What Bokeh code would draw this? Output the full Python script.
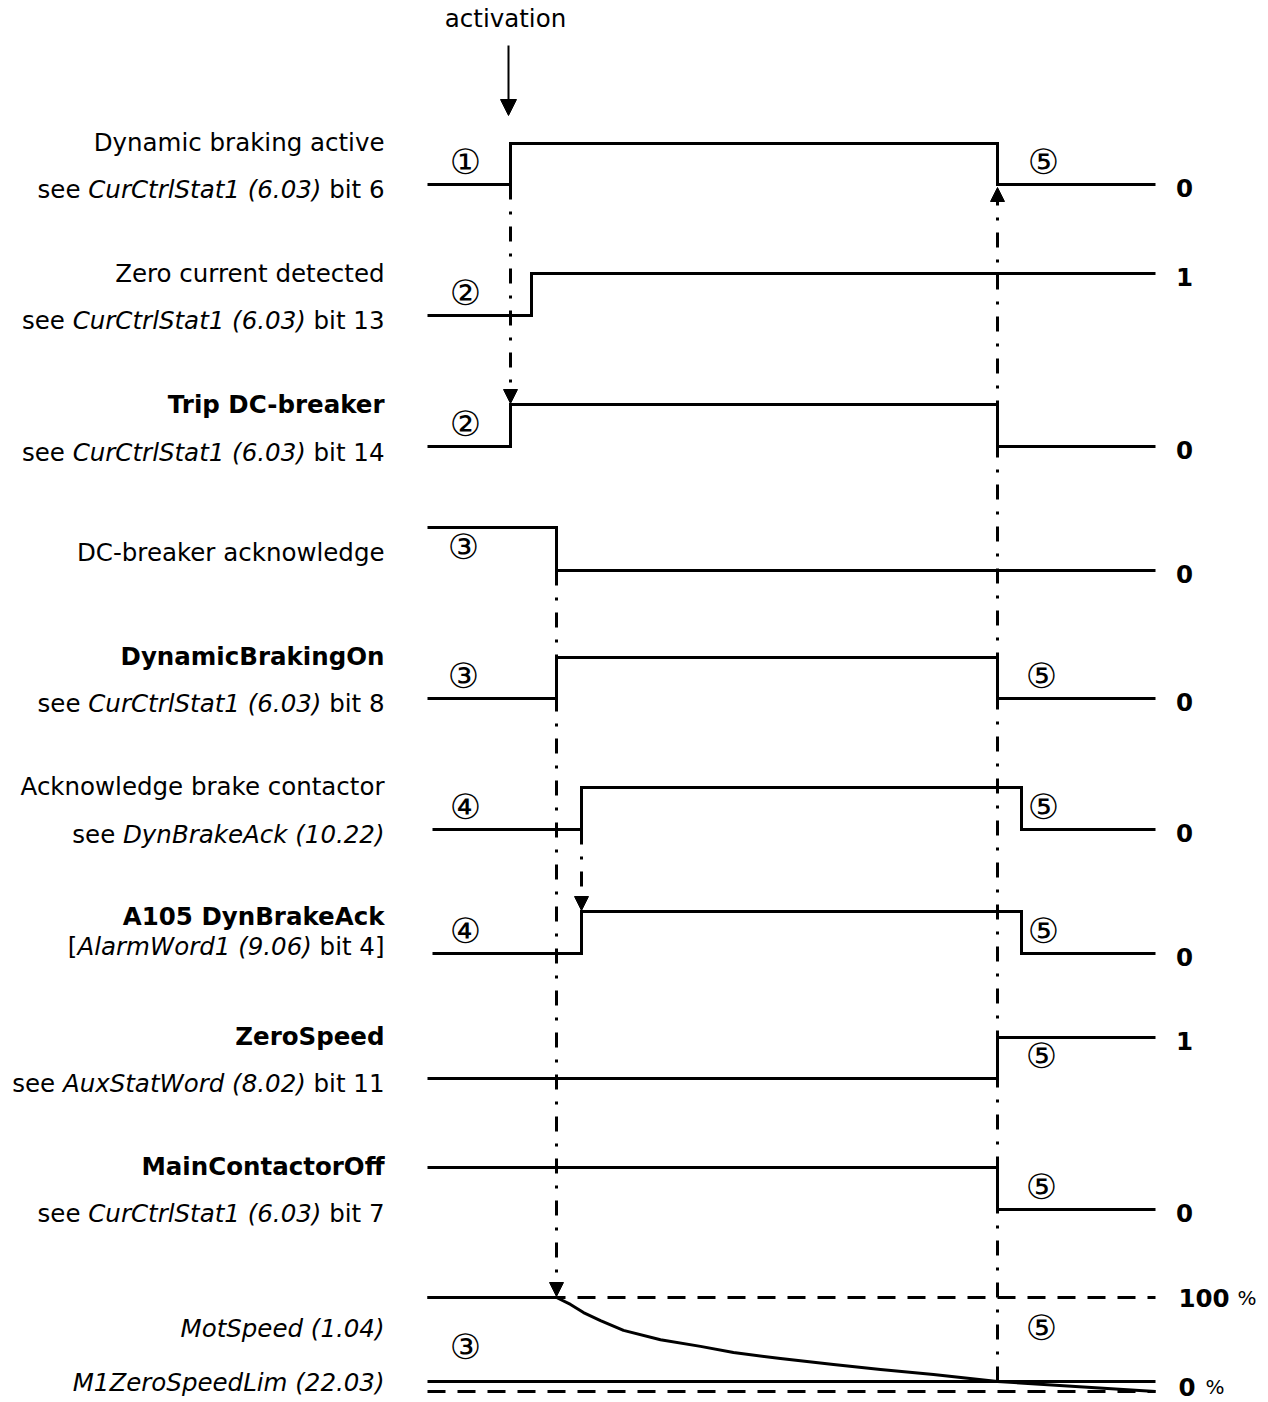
from bokeh.plotting import figure
from bokeh.models import Range1d, Arrow, NormalHead
from bokeh.embed import file_html
from bokeh.resources import INLINE
from bokeh.core.properties import value

# ---------------- data (time axis in arbitrary units, 0 = start of trace) ----------------
t_begin = 0
t_activation = 83
t_zero_current = 104
t_breaker_ack = 129
t_brake_ack = 154
t_zero_speed = 570
t_brake_release = 594
t_end = 728

signal_names = ["Dynamic braking active", "Zero current detected", "Trip DC-breaker",
                "DC-breaker acknowledge", "DynamicBrakingOn", "Acknowledge brake contactor",
                "A105 DynBrakeAck", "ZeroSpeed", "MainContactorOff"]
signal_bold = [False, False, True, False, True, False, True, True, True]
signal_refs = [("see", "CurCtrlStat1 (6.03)", "bit 6"),
               ("see", "CurCtrlStat1 (6.03)", "bit 13"),
               ("see", "CurCtrlStat1 (6.03)", "bit 14"),
               None,
               ("see", "CurCtrlStat1 (6.03)", "bit 8"),
               ("see", "DynBrakeAck (10.22)", ""),
               ("[", "AlarmWord1 (9.06)", "bit 4]"),
               ("see", "AuxStatWord (8.02)", "bit 11"),
               ("see", "CurCtrlStat1 (6.03)", "bit 7")]
signal_start = [0, 0, 0, 0, 0, 5, 5, 0, 0]
signal_init = [0, 0, 0, 1, 0, 0, 0, 0, 1]
signal_edges = [[t_activation, t_zero_speed],
                [t_zero_current],
                [t_activation, t_zero_speed],
                [t_breaker_ack],
                [t_breaker_ack, t_zero_speed],
                [t_brake_ack, t_brake_release],
                [t_brake_ack, t_brake_release],
                [t_zero_speed],
                [t_zero_speed]]
signal_end_label = ["0", "1", "0", "0", "0", "0", "0", "1", "0"]

# event markers (row, time, symbol)
mark_row = [0, 0, 1, 2, 3, 4, 4, 5, 5, 6, 6, 7, 8]
mark_t = [38, 616, 38, 38, 36, 36, 614, 38, 616, 38, 616, 614, 614]
mark_sym = ["①", "⑤", "②", "②", "③", "③", "⑤", "④", "⑤", "④", "⑤", "⑤", "⑤"]

# motor speed in % of nominal
speed_t = [0, 129, 143, 156, 173, 196, 233, 273, 306, 353, 406, 453, 506, 570, 648, 728]
speed_pct = [100, 100, 92.6, 84, 75.5, 65, 55, 48, 41.5, 35, 28.7, 23.4, 18, 10.6, 5.3, 0]
zero_speed_lim_pct = 10.6
speed_mark_t = [38, 614]
speed_mark_pct = [47, 68]
speed_mark_sym = ["③", "⑤"]

# ---------------- layout (page pixels) ----------------
X0 = 427                     # page x of t = 0
row_hi = [143, 273, 404, 527, 657, 787, 911, 1037, 1167]
row_lo = [184, 315, 446, 570, 698, 829, 953, 1078, 1209]
TY = -9                      # text vertical correction
label1_base = [151, 282, 413, 561, 665, 795, 925, 1045, 1175]
label2_base = [198, 329, 461, None, 712, 843, 955, 1092, 1222]
Y100, Y0 = 1297, 1391
LABEL_RIGHT = 384 - X0
LEVEL_X = 1184 - X0
FONT = "DejaVu Sans"
FS = 24.5

def lvl_y(row, lvl):
    return row_lo[row] - lvl * (row_lo[row] - row_hi[row])

def spd_y(pct):
    return Y0 - pct * (Y0 - Y100) / 100.0

ADV = {' ': 651, '(': 799, ')': 799, '.': 651, '[': 799, ']': 799,
       'A': 1401, 'B': 1405, 'C': 1430, 'D': 1577, 'L': 1141, 'M': 1767, 'S': 1300,
       'W': 2025, 'Z': 1405, 'a': 1255, 'b': 1300, 'c': 1126, 'd': 1300, 'e': 1260,
       'i': 569, 'k': 1186, 'l': 569, 'm': 1995, 'n': 1298, 'o': 1253, 'p': 1300,
       'r': 842, 's': 1067, 't': 803, 'u': 1298, 'x': 1212, 'y': 1212}
for d in "0123456789":
    ADV[d] = 1303

def tw(s):
    return sum(ADV.get(c, 1250) for c in s) * FS / 2048.0

W, H = 1268, 1402
p = figure(width=W, height=H, output_backend="svg", toolbar_location=None,
           x_range=Range1d(-X0, W - X0), y_range=Range1d(H, 0),
           min_border=0, outline_line_color=None, background_fill_color="white",
           border_fill_color="white")
p.axis.visible = False
p.grid.visible = False

# ---- signal traces ----
xs_all, ys_all = [], []
for i in range(len(signal_names)):
    lvl = signal_init[i]
    xs = [signal_start[i]]
    ys = [lvl_y(i, lvl)]
    for te in signal_edges[i]:
        xs += [te, te]
        ys += [lvl_y(i, lvl), lvl_y(i, 1 - lvl)]
        lvl = 1 - lvl
    xs.append(t_end)
    ys.append(lvl_y(i, lvl))
    xs_all.append(xs)
    ys_all.append(ys)
p.multi_line(xs_all, ys_all, line_color="black", line_width=3, line_join="miter")

# ---- speed section ----
p.line([t_begin, t_end], [spd_y(100), spd_y(100)], line_color="black", line_width=3, line_dash="18 12")
p.line([t_begin, t_end], [spd_y(0), spd_y(0)], line_color="black", line_width=3, line_dash="18 12")
p.line([t_begin, t_end], [spd_y(zero_speed_lim_pct)] * 2, line_color="black", line_width=3)
p.line(speed_t, [spd_y(v) for v in speed_pct], line_color="black", line_width=3, line_join="round")

# ---- connectors ----
DD = "15 12 3 12"
def conn(t, y0, y1, dash=DD, lw=3, size=14):
    p.add_layout(Arrow(end=NormalHead(size=size, fill_color="black", line_color="black", line_width=1),
                       x_start=t, y_start=y0, x_end=t, y_end=y1,
                       line_color="black", line_width=lw, line_dash=dash))

conn(t_activation, lvl_y(0, 0), lvl_y(2, 1) - 1)
conn(t_breaker_ack, lvl_y(3, 0), spd_y(100) - 1)
conn(t_brake_ack, lvl_y(5, 0), lvl_y(6, 1) - 1)
conn(t_zero_speed, spd_y(zero_speed_lim_pct), lvl_y(0, 0) + 3)
conn(t_activation - 2, 45, 115, dash="solid", lw=2, size=16)

# ---- texts ----
tkw = dict(text_font=value(FONT), text_color="black", text_baseline="alphabetic")
p.text(x=[t_activation - 5], y=[27 + TY], text=["activation"], text_align="center",
       text_font_size=value(f"{FS}px"), **tkw)

for bold in (False, True):
    idx = [i for i in range(len(signal_names)) if signal_bold[i] == bold]
    p.text(x=[LABEL_RIGHT] * len(idx), y=[label1_base[i] + TY for i in idx],
           text=[signal_names[i] for i in idx], text_align="right",
           text_font_style="bold" if bold else "normal",
           text_font_size=value(f"{FS}px"), **tkw)

SP = tw(" ")
nx, ny, nt, ix, iy, it = [], [], [], [], [], []
for i, ref in enumerate(signal_refs):
    if ref is None:
        continue
    pre, ital, suf = ref
    yb = label2_base[i] + TY
    xr = LABEL_RIGHT
    if suf:
        nx.append(xr); ny.append(yb); nt.append(suf)
        xr -= tw(suf) + SP
    ix.append(xr); iy.append(yb); it.append(ital)
    xr -= tw(ital)
    if pre == "see":
        xr -= SP
    nx.append(xr); ny.append(yb); nt.append(pre)
p.text(x=nx, y=ny, text=nt, text_align="right", text_font_size=value(f"{FS}px"), **tkw)
p.text(x=ix + [LABEL_RIGHT, LABEL_RIGHT], y=iy + [1337 + TY, 1391 + TY],
       text=it + ["MotSpeed (1.04)", "M1ZeroSpeedLim (22.03)"], text_align="right",
       text_font_style="italic", text_font_size=value(f"{FS}px"), **tkw)

# level labels at the right
end_y = []
for i in range(len(signal_names)):
    lvl = signal_init[i] if len(signal_edges[i]) % 2 == 0 else 1 - signal_init[i]
    end_y.append(lvl_y(i, lvl) + 12 + TY)
p.text(x=[LEVEL_X] * len(end_y), y=end_y, text=signal_end_label, text_align="center",
       text_font_style="bold", text_font_size=value(f"{FS}px"), **tkw)
p.text(x=[LEVEL_X - 6, LEVEL_X - 6], y=[spd_y(100) + 9 + TY, spd_y(0) + 4 + TY], text=["100", "0"],
       text_align="left", text_font_style="bold", text_font_size=value(f"{FS}px"), **tkw)
p.text(x=[LEVEL_X + 53, LEVEL_X + 21], y=[spd_y(100) + 9 + TY, spd_y(0) + 4 + TY], text=["%", "%"],
       text_align="left", text_font_size=value("20px"), **tkw)

# circled event numbers
mk_y = [(row_hi[r] + row_lo[r]) / 2.0 - 2 for r in mark_row]
p.text(x=mark_t + speed_mark_t, y=mk_y + [spd_y(v) for v in speed_mark_pct],
       text=mark_sym + speed_mark_sym, text_align="center", text_baseline="middle",
       text_font=value(FONT), text_color="black", text_font_size=value("35px"))

open("out.html", "w").write(file_html(p, INLINE))
